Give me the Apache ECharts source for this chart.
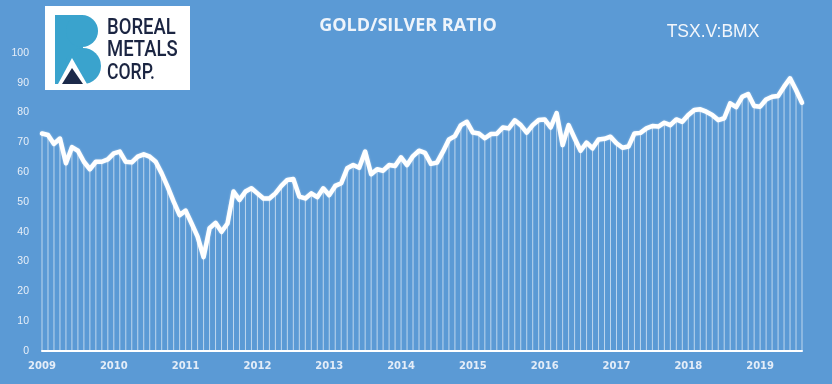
<!DOCTYPE html>
<html>
<head>
<meta charset="utf-8">
<script src="https://cdn.jsdelivr.net/npm/echarts@6/dist/echarts.min.js"></script>
<style>
html,body{margin:0;padding:0;background:#5B9AD5;}
#chart{width:832px;height:384px;}
</style>
</head>
<body>
<div id="chart"></div>
<script>
// Tick labels (years) and months per year
var years = ['2009','2010','2011','2012','2013','2014','2015','2016','2017','2018','2019'];
var months = ['01','02','03','04','05','06','07','08','09','10','11','12'];
var lastYearMonths = 8; // data ends Aug 2019

// Monthly gold/silver ratio values
var ratio2009 = [73.0, 72.5, 69.5, 71.3, 63.0, 68.4, 67.2, 63.5, 61.0, 63.5, 63.5, 64.3];
var ratio2010 = [66.3, 66.9, 63.5, 63.3, 65.2, 66.0, 65.2, 63.5, 59.6, 55.1, 50.1, 45.6];
var ratio2011 = [47.1, 42.8, 38.4, 31.5, 41.2, 43.0, 40.0, 42.8, 53.5, 50.7, 53.5, 54.6];
var ratio2012 = [52.9, 51.2, 51.2, 52.9, 55.4, 57.4, 57.7, 51.8, 51.2, 52.9, 51.6, 54.6];
var ratio2013 = [52.3, 55.4, 56.3, 61.3, 62.4, 61.5, 66.9, 59.3, 61.0, 60.5, 62.4, 62.1];
var ratio2014 = [65.0, 62.4, 65.4, 67.2, 66.5, 62.8, 63.2, 66.9, 71.0, 72.1, 75.8, 76.9];
var ratio2015 = [73.3, 73.0, 71.4, 72.8, 72.9, 75.0, 74.7, 77.4, 75.8, 73.3, 75.8, 77.5];
var ratio2016 = [77.7, 75.0, 79.8, 69.1, 75.8, 71.4, 67.2, 69.9, 68.0, 71.0, 71.2, 71.9];
var ratio2017 = [69.7, 68.2, 68.6, 73.0, 73.2, 74.7, 75.5, 75.3, 76.6, 75.8, 77.7, 76.9];
var ratio2018 = [79.2, 80.9, 81.1, 80.3, 79.2, 77.5, 78.1, 83.1, 81.8, 85.3, 86.2, 82.2];
var ratio2019 = [82.0, 84.4, 85.3, 85.6, 88.7, 91.5, 87.6, 83.3];

var values = [].concat(ratio2009, ratio2010, ratio2011, ratio2012, ratio2013, ratio2014,
  ratio2015, ratio2016, ratio2017, ratio2018, ratio2019);

var categories = [];
years.forEach(function (y, yi) {
  var n = (yi === years.length - 1) ? lastYearMonths : 12;
  for (var m = 0; m < n; m++) categories.push(y + '-' + months[m]);
});

var chart = echarts.init(document.getElementById('chart'), null, {renderer: 'canvas'});

var logoFont = '500 22px Roboto, "Liberation Sans"';

var option = {
  backgroundColor: '#5B9AD5',
  animation: false,
  grid: {left: 42, right: 30, top: 53, bottom: 33},
  xAxis: {
    type: 'category',
    data: categories,
    boundaryGap: false,
    axisLine: {show: true, lineStyle: {color: '#ffffff', width: 2}},
    axisTick: {show: false},
    splitLine: {show: false},
    axisLabel: {
      interval: 11,
      margin: 10,
      color: '#e4edf8',
      fontFamily: 'DejaVu Sans',
      fontWeight: 'bold',
      fontSize: 10,
      formatter: function (v) { return v.slice(0, 4); }
    }
  },
  yAxis: {
    type: 'value',
    min: 0,
    max: 100,
    interval: 10,
    axisLine: {show: false},
    axisTick: {show: false},
    splitLine: {show: false},
    axisLabel: {
      margin: 13,
      color: '#e8eff8',
      fontFamily: 'Liberation Sans',
      fontSize: 10.5
    }
  },
  series: [
    {
      type: 'bar',
      data: values,
      barWidth: 1,
      itemStyle: {color: 'rgba(255,255,255,0.6)'},
      silent: true
    },
    {
      type: 'line',
      data: values,
      symbol: 'none',
      smooth: false,
      lineStyle: {color: '#ffffff', width: 4.5, join: 'round', cap: 'round',
        shadowColor: 'rgba(255,255,255,0.5)', shadowBlur: 2},
      silent: true,
      z: 3
    }
  ],
  graphic: [
    {type: 'rect', shape: {x: 45, y: 6, width: 145, height: 84}, style: {fill: '#ffffff'}},
    {type: 'rect', shape: {x: 55, y: 15, width: 28, height: 69}, style: {fill: '#3AA3CD'}},
    {type: 'circle', shape: {cx: 82, cy: 31, r: 16}, style: {fill: '#3AA3CD'}},
    {type: 'circle', shape: {cx: 83, cy: 66, r: 18}, style: {fill: '#3AA3CD'}},
    {type: 'polygon', shape: {points: [[58,84],[72,58],[87,84]]}, style: {fill: '#ffffff'}},
    {type: 'polygon', shape: {points: [[62,84],[72,68],[83,84]]}, style: {fill: '#1C2A4A'}},
    {type: 'text', x: 107, y: 28, scaleX: 0.84,
      style: {text: 'BOREAL', x: 0, y: 0, textAlign: 'left', textVerticalAlign: 'middle',
        font: logoFont, fill: '#1B2542'}},
    {type: 'text', x: 107, y: 50, scaleX: 0.84,
      style: {text: 'METALS', x: 0, y: 0, textAlign: 'left', textVerticalAlign: 'middle',
        font: logoFont, fill: '#1B2542'}},
    {type: 'text', x: 107, y: 73, scaleX: 0.8,
      style: {text: 'CORP.', x: 0, y: 0, textAlign: 'left', textVerticalAlign: 'middle',
        font: logoFont, fill: '#1B2542'}},
    {type: 'text', x: 408, y: 26,
      style: {text: 'GOLD/SILVER RATIO', x: 0, y: 0, textAlign: 'center', textVerticalAlign: 'middle',
        font: 'bold 18px "Open Sans"', fill: '#eef4fb'}},
    {type: 'text', x: 713, y: 32,
      style: {text: 'TSX.V:BMX', x: 0, y: 0, textAlign: 'center', textVerticalAlign: 'middle',
        font: '17.5px "Liberation Sans"', fill: '#f2f6fb'}}
  ]
};
chart.setOption(option);
</script>
</body>
</html>
